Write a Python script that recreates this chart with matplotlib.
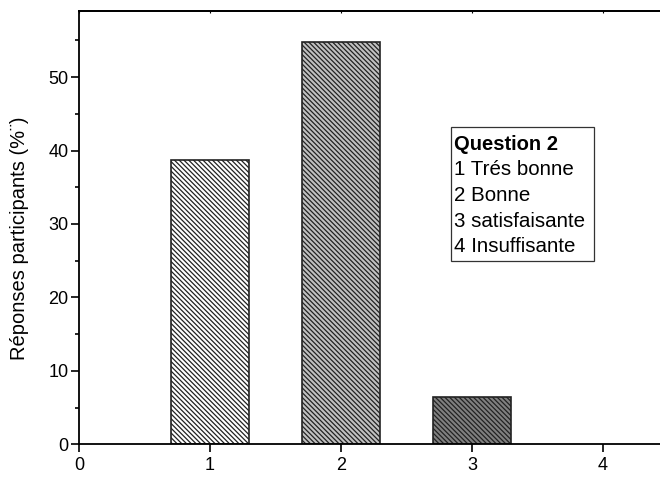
import matplotlib
matplotlib.use('Agg')
import matplotlib.pyplot as plt
from matplotlib.patches import Rectangle
from matplotlib.ticker import MultipleLocator

# Données
reponses = [1, 2, 3]
pourcentages = [38.7, 54.8, 6.5]
couleurs = ['#ffffff', '#c0c0c0', '#808080']
legende_titre = 'Question 2'
legende_lignes = ['1 Trés bonne', '2 Bonne', '3 satisfaisante', '4 Insuffisante']

plt.rcParams['font.family'] = ['Liberation Sans', 'DejaVu Sans']
plt.rcParams['hatch.linewidth'] = 0.9

fig = plt.figure(figsize=(6.6, 4.78), dpi=100)
ax = fig.add_axes([0.1197, 0.0705, 0.893, 0.9065])

ax.bar(reponses, pourcentages, width=0.6, color=couleurs, edgecolor='#222222',
       linewidth=1.2, hatch='\\' * 7)

ax.set_xlim(0, 4.5)
ax.set_ylim(0, 59)
ax.xaxis.set_major_locator(MultipleLocator(1))
ax.yaxis.set_major_locator(MultipleLocator(10))
ax.yaxis.set_minor_locator(MultipleLocator(5))
ax.tick_params(axis='y', which='major', direction='out', length=5.5, width=1.2,
               labelsize=13, pad=2)
ax.tick_params(axis='x', which='major', direction='out', length=5.5, width=1.2,
               labelsize=13, pad=3.5)
ax.tick_params(axis='y', which='minor', direction='out', length=3, width=1.2)
for s in ax.spines.values():
    s.set_linewidth(1.3)

# petites graduations en haut
haut = ax.secondary_xaxis('top')
haut.xaxis.set_major_locator(MultipleLocator(1))
haut.tick_params(direction='in', length=1.5, width=0.8, labeltop=False)
haut.spines['top'].set_linewidth(1.3)

ax.set_ylabel('Réponses participants (%¨)', fontsize=14.5)
ax.yaxis.set_label_coords(-0.085, 0.476)

# Encadré "Question 2"
ax.add_patch(Rectangle((0.631, 0.423), 0.243, 0.309, transform=ax.transAxes,
                       facecolor='white', edgecolor='#333333', linewidth=0.9, zorder=3))
y0 = 0.680
pas = 0.0593
ax.text(0.637, y0, legende_titre, transform=ax.transAxes, fontsize=14.5,
        fontweight='bold', va='baseline', ha='left', zorder=4)
for i, ligne in enumerate(legende_lignes):
    ax.text(0.637, y0 - (i + 1) * pas, ligne, transform=ax.transAxes,
            fontsize=14.8, va='baseline', ha='left', zorder=4)

fig.savefig('out.png', dpi=100)
